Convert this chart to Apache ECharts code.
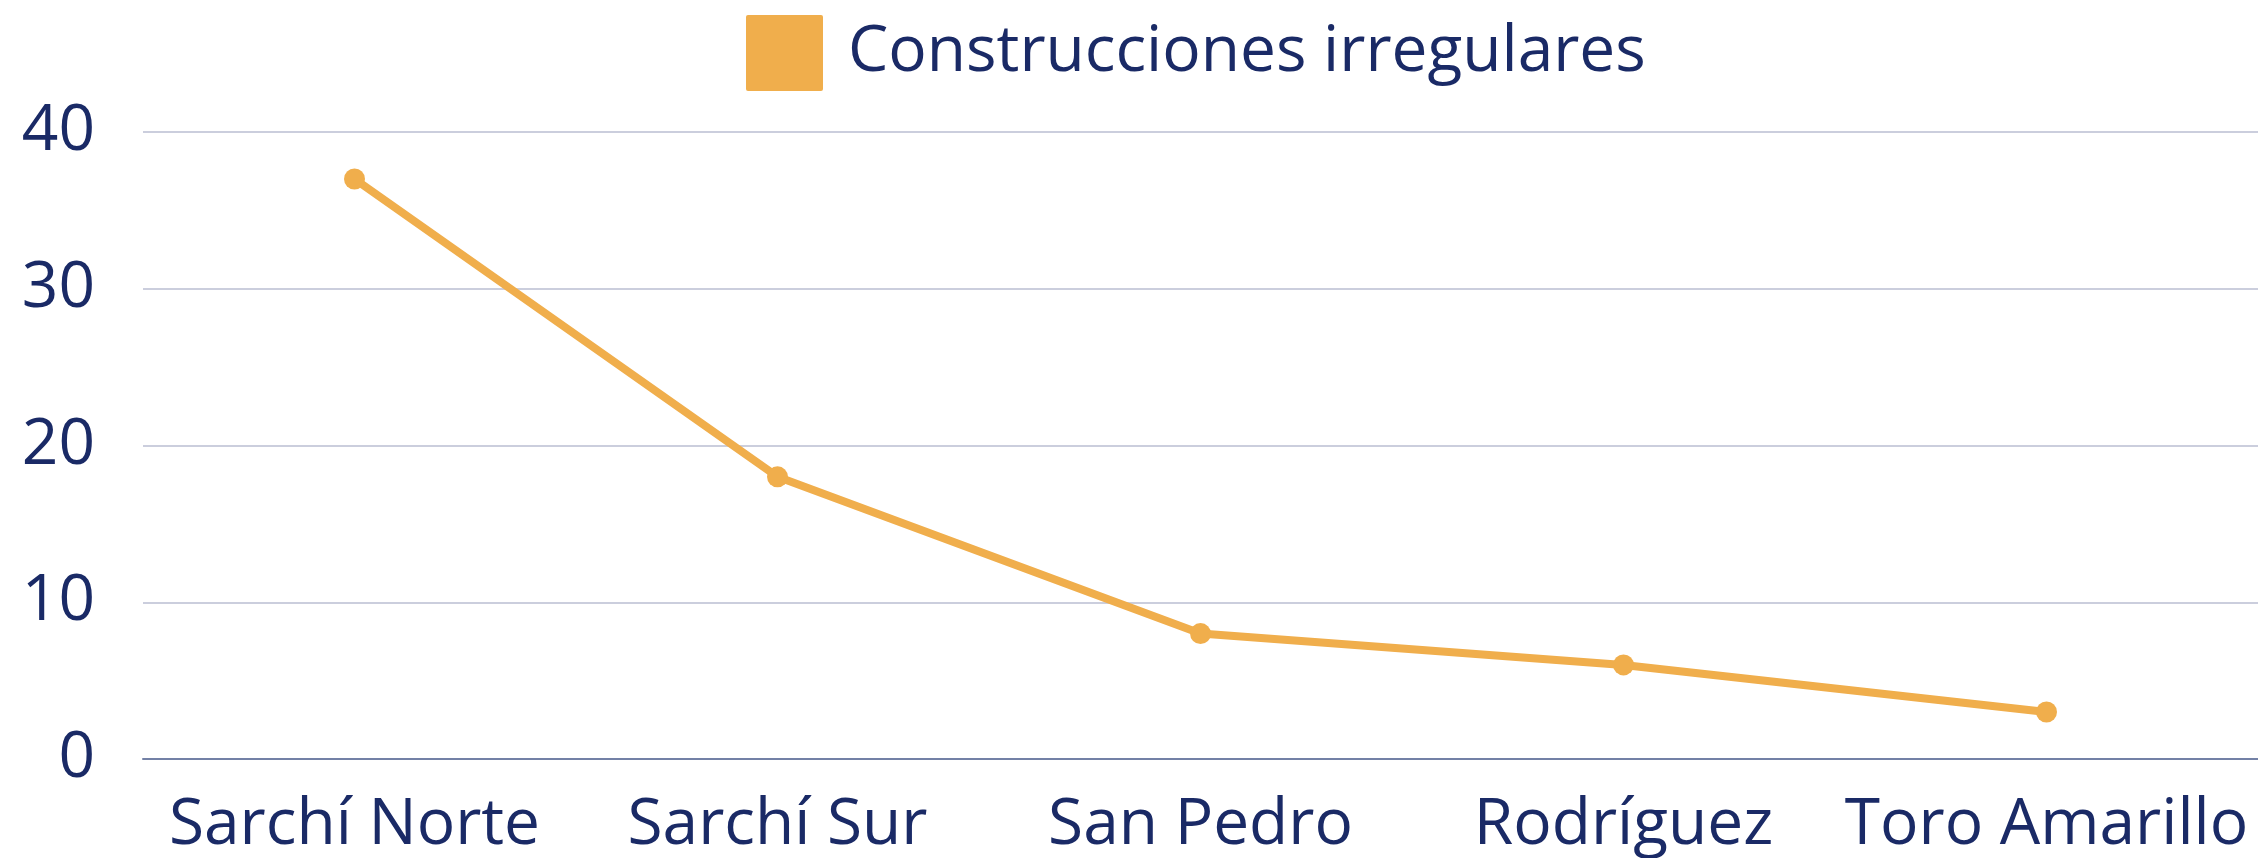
<!DOCTYPE html>
<html>
<head>
<meta charset="utf-8">
<script src="https://cdn.jsdelivr.net/npm/echarts@6/dist/echarts.min.js"></script>
<style>
  html, body { margin: 0; padding: 0; background: #ffffff; }
  #chart { width: 2258px; height: 858px; }
</style>
</head>
<body>
<div id="chart"></div>
<script>
// Irregular constructions per district
const districts = ['Sarchí Norte', 'Sarchí Sur', 'San Pedro', 'Rodríguez', 'Toro Amarillo'];
const construccionesIrregulares = [37, 18, 8, 6, 3];
const seriesName = 'Construcciones irregulares';
const yTicks = { min: 0, max: 40, interval: 10 };

const navy = '#1a2a66';
const orange = '#f0ae4c';
const font = 'Open Sans';

const chart = echarts.init(document.getElementById('chart'));
chart.setOption({
  backgroundColor: '#ffffff',
  textStyle: { fontFamily: font },
  legend: {
    data: [{ name: seriesName, icon: 'path://M2,0 H75 Q77,0 77,2 V74 Q77,76 75,76 H2 Q0,76 0,74 V2 Q0,0 2,0 Z' }],
    left: 746,
    top: 15,
    padding: 0,
    itemWidth: 77,
    itemHeight: 76,
    itemGap: 25,
    textStyle: { color: navy, fontSize: 64, fontFamily: font, padding: [0, 0, 8, 20] }
  },
  grid: { left: 143, right: 0, top: 132, bottom: 97, containLabel: false },
  xAxis: {
    type: 'category',
    data: districts,
    boundaryGap: true,
    axisLine: { lineStyle: { color: '#7381a6', width: 2 } },
    axisTick: { show: false },
    axisLabel: { color: navy, fontSize: 64, fontFamily: font, margin: 35, interval: 0 },
    splitLine: { show: false }
  },
  yAxis: {
    type: 'value',
    min: yTicks.min,
    max: yTicks.max,
    interval: yTicks.interval,
    axisLine: { show: false },
    axisTick: { show: false },
    axisLabel: { color: navy, fontSize: 64, fontFamily: font, margin: 48 },
    splitLine: { lineStyle: { color: '#cbcedd', width: 2 } }
  },
  series: [{
    name: seriesName,
    type: 'line',
    data: construccionesIrregulares,
    symbol: 'circle',
    symbolSize: 21,
    showAllSymbol: true,
    itemStyle: { color: orange },
    lineStyle: { color: orange, width: 8 },
    animation: false
  }],
  animation: false
});
</script>
</body>
</html>
